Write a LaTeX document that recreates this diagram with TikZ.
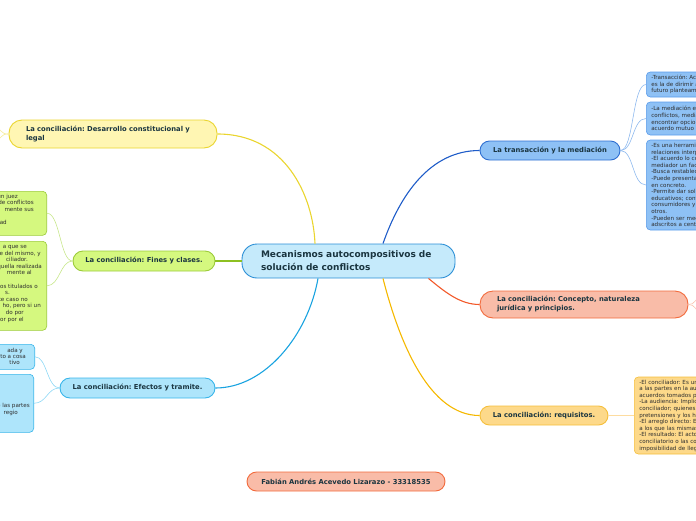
\documentclass[tikz,border=0pt]{standalone}
\usepackage{fontspec}
\setmainfont{DejaVu Sans}
\usetikzlibrary{calc}
\frenchspacing
\definecolor{txt}{HTML}{1A3540}
\definecolor{stxt}{HTML}{2E2E2E}
\definecolor{cfill}{HTML}{C5EAFB}\definecolor{cline}{HTML}{2B8FD6}
\definecolor{yfill}{HTML}{FFF6B3}\definecolor{yline}{HTML}{EAD52F}\definecolor{ylight}{HTML}{F6EC9A}
\definecolor{gfill}{HTML}{D5F87F}\definecolor{gline}{HTML}{9CCB3A}\definecolor{gcon}{HTML}{8DC021}\definecolor{glight}{HTML}{C7E68A}
\definecolor{afill}{HTML}{AEE5FB}\definecolor{aline}{HTML}{38B5EA}\definecolor{acon}{HTML}{1AA3E0}\definecolor{alight}{HTML}{8ED8F5}
\definecolor{bfill}{HTML}{8EC1F5}\definecolor{bline}{HTML}{2F6FD1}\definecolor{bcon}{HTML}{1E5CC8}\definecolor{blight}{HTML}{8EB9EE}\definecolor{bsub}{HTML}{5A9BEA}
\definecolor{ofill}{HTML}{F9BCA8}\definecolor{oline}{HTML}{F26B3D}\definecolor{ocon}{HTML}{F2592A}\definecolor{olight}{HTML}{F9C2AE}
\definecolor{dfill}{HTML}{FDD98A}\definecolor{dline}{HTML}{F5BF3C}\definecolor{dcon}{HTML}{F5B800}\definecolor{dlight}{HTML}{FDDCA0}
\tikzset{
  mainbox/.style={draw, line width=0.9pt, inner sep=0pt, font=\fontsize{6.8}{9}\selectfont\bfseries, text=txt, align=center},
  subbox/.style={draw, line width=0.6pt, rounded corners=4pt, inner xsep=5pt, inner ysep=0pt, font=\fontsize{5.6}{6.6}\selectfont, text=stxt, align=left, anchor=west},
  cutbox/.style={draw, line width=0.6pt, rounded corners=4pt, inner sep=0pt, anchor=north east},
  frag/.style={font=\fontsize{5.6}{6.6}\selectfont, text=stxt, anchor=base east, inner sep=0pt},
  maincon/.style={line width=1.1pt},
  subcon/.style={line width=0.6pt}
}
\begin{document}
\begin{tikzpicture}[x=1pt,y=-1pt]
\useasboundingbox (0,0) rectangle (696,520);

% central node
\node[mainbox, fill=cfill, draw=cline, rounded corners=15pt, minimum width=213pt, minimum height=34pt, text width=175pt, align=left, font=\fontsize{9}{12.8}\selectfont\bfseries] (c) at (348.5,261)
  {Mecanismos autocompositivos de\\solución de conflictos};

% main branches
\node[mainbox, fill=yfill, draw=yline, rounded corners=13pt, minimum width=208pt, minimum height=28pt, text width=174pt, align=left] (tl) at (113,134)
  {La conciliación: Desarrollo constitucional y\\legal};
\node[mainbox, fill=gfill, draw=gline, rounded corners=10pt, minimum width=142pt, minimum height=20pt] (fi) at (144,261)
  {La conciliación: Fines y clases.};
\node[mainbox, fill=afill, draw=aline, rounded corners=10pt, minimum width=155pt, minimum height=20pt] (ef) at (137.5,388)
  {La conciliación: Efectos y tramite.};
\node[mainbox, fill=bfill, draw=bline, rounded corners=9.5pt, minimum width=140pt, minimum height=19pt] (tr) at (550,150.5)
  {La transacción y la mediación};
\node[mainbox, fill=ofill, draw=oline, rounded corners=13pt, minimum width=208pt, minimum height=27pt, text width=174pt, align=left] (co) at (584,304.5)
  {La conciliación: Concepto, naturaleza\\jurídica y principios.};
\node[mainbox, fill=dfill, draw=dline, rounded corners=9.5pt, minimum width=128pt, minimum height=19pt] (rq) at (544,415.5)
  {La conciliación: requisitos.};
\node[mainbox, fill=ofill, draw=oline, rounded corners=9.5pt, minimum width=198pt, minimum height=19pt] (au) at (346,481.5)
  {Fabián Andrés Acevedo Lizarazo - 33318535};

% right sub boxes (transaccion)
\node[subbox, fill=bfill, draw=bsub, minimum height=25pt, text width=110pt] (t1) at (646,84.5)
  {-Transacción: Ac\\es la de dirimir a\\futuro planteami};
\node[subbox, fill=bfill, draw=bsub, minimum height=33pt, text width=110pt] (t2) at (646,118.5)
  {-La mediación es\\conflictos, media\\encontrar opcion\\acuerdo mutuo c};
\node[subbox, fill=bfill, draw=bsub, minimum height=90pt, text width=110pt] (t3) at (646,185)
  {-Es una herramie\\relaciones interp\\-El acuerdo lo co\\mediador un faci\\-Busca restablec\\-Puede presenta\\en concreto.\\-Permite dar sol\\educativos; conf\\consumidores y\\otros.\\-Pueden ser mec\\adscritos a centr};

% requisitos sub box
\node[subbox, fill=dfill, draw=dline, minimum height=77pt, text width=110pt] (r1) at (634,415.5)
  {-El conciliador: Es un\\a las partes en la au\\acuerdos tomados p\\-La audiencia: Implic\\conciliador; quienes\\pretensiones y los he\\-El arreglo directo: E\\a los que las mismas\\-El resultado: El acto\\conciliatorio o las co\\imposibilidad de lleg};

% left cut boxes
\node[cutbox, fill=gfill, draw=gline, minimum width=60pt, minimum height=44pt] (la) at (47,191) {};
\node[cutbox, fill=gfill, draw=gline, minimum width=60pt, minimum height=89pt] (lb) at (47,241) {};
\node[cutbox, fill=afill, draw=aline, minimum width=45pt, minimum height=25pt] (lc) at (35,344) {};
\node[cutbox, fill=afill, draw=aline, minimum width=44pt, minimum height=58pt] (ld) at (34,374) {};

% fragments of the cut texts
\node[frag] (a1) at (18,198.3) {un juez};
\node[frag] (a2) at (34,204.9) {de conflictos};
\node[frag] (a3) at (34,211.5) {mente sus};
\node[frag] (a4) at (7,224.7) {ad};

\node[frag] (b1) at (27,248.5) {a que se};
\node[frag] (b2) at (41,255.1) {e del mismo, y};
\node[frag] (b3) at (28,261.7) {ciliador.};
\node[frag] (b4) at (42,268.3) {quella realizada};
\node[frag] (b5) at (32,274.9) {mente al};
\node[frag] (b6) at (38,288.1) {dos titulados o};
\node[frag] (b7) at (10,294.7) {s.};
\node[frag] (b8) at (28,301.3) {te caso no};
\node[frag] (b9) at (41,307.9) {ho, pero si un};
\node[frag] (b10) at (24,314.5) {do por};
\node[frag] (b11) at (24,321.1) {or por el};

\node[frag] (c1) at (23,352.8) {ada y};
\node[frag] (c2) at (26,358.8) {to a cosa};
\node[frag] (c3) at (20,364.8) {tivo};

\node[frag] (d1) at (30,407.8) {e las partes};
\node[frag] (d2) at (18,414.2) {regio};

% main connectors
\draw[maincon, yline] ([xshift=-33.5pt]c.north) .. controls (313,195) and (285,134) .. (tl.east);
\draw[maincon, gcon] (c.west) -- (fi.east);
\draw[maincon, acon] ([xshift=-30.5pt]c.south) .. controls (308,335) and (265,388) .. (ef.east);
\draw[maincon, bcon] ([xshift=34.5pt]c.north) .. controls (400,195) and (430,150.5) .. (tr.west);
\draw[maincon, ocon] ([xshift=80pt]c.south) .. controls (445,292) and (460,304.5) .. (co.west);
\draw[maincon, dcon] ([xshift=34.5pt]c.south) .. controls (400,345) and (430,415.5) .. (rq.west);

% sub connectors
\draw[subcon, blight] (tr.east) .. controls (634,150.5) and (632,84.5) .. (t1.west);
\draw[subcon, blight] (tr.east) .. controls (634,150.5) and (632,118.5) .. (t2.west);
\draw[subcon, blight] (tr.east) .. controls (634,150.5) and (632,185) .. (t3.west);
\draw[line width=1.4pt, dlight] (rq.east) -- (r1.west);
\draw[subcon, glight] (fi.west) .. controls (60,261) and (60,213) .. (la.east);
\draw[subcon, glight] (fi.west) .. controls (60,261) and (60,285.5) .. (lb.east);
\draw[subcon, alight] (ef.west) .. controls (47,388) and (47,356.5) .. (lc.east);
\draw[subcon, alight] (ef.west) .. controls (47,388) and (47,403) .. (ld.east);

% stubs leaving the picture
\coordinate (s1) at (-2,128);
\coordinate (s2) at (-2,140);
\coordinate (s3) at (698,298);
\coordinate (s4) at (698,311);
\draw[subcon, ylight] (tl.west) .. controls (4,134) .. (s1);
\draw[subcon, ylight] (tl.west) .. controls (4,134) .. (s2);
\draw[subcon, olight] (co.east) .. controls (692,304.5) .. (s3);
\draw[subcon, olight] (co.east) .. controls (692,304.5) .. (s4);
\end{tikzpicture}
\end{document}
